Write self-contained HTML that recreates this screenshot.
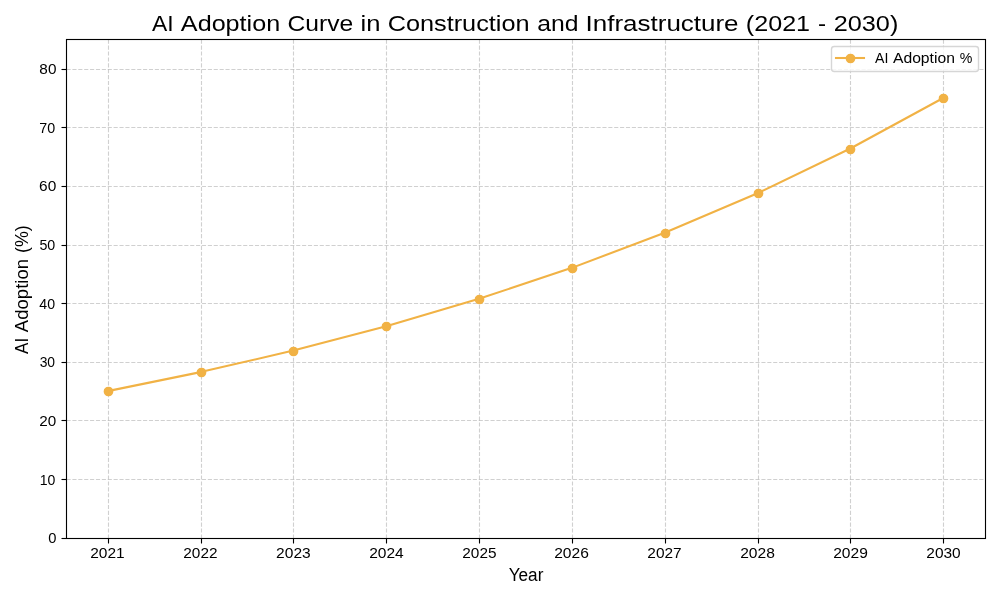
<!DOCTYPE html>
<html lang="en">
<head>
<meta charset="utf-8">
<title>AI Adoption Curve in Construction and Infrastructure (2021 - 2030)</title>
<style>
html,body{margin:0;padding:0;background:#ffffff;}
body{width:1000px;height:600px;overflow:hidden;font-family:"Liberation Sans",sans-serif;}
svg{display:block;will-change:transform;}
text{font-family:"Liberation Sans",sans-serif;fill:#000000;white-space:pre;}
.grid{stroke:#b0b0b0;stroke-opacity:0.6;stroke-width:1.111;stroke-dasharray:4.111 1.778;fill:none;}
.tick{stroke:#000000;stroke-width:1.111;fill:none;}
.spine{stroke:#000000;stroke-width:1.111;fill:none;stroke-linecap:square;}
</style>
</head>
<body>
<svg width="1000" height="600" viewBox="0 0 1000 600">
<rect x="0" y="0" width="1000" height="600" fill="#ffffff"/>
<!-- grid -->
<g class="grid">
<line x1="108.5" y1="538.5" x2="108.5" y2="39.5"/>
<line x1="201.5" y1="538.5" x2="201.5" y2="39.5"/>
<line x1="293.5" y1="538.5" x2="293.5" y2="39.5"/>
<line x1="386.5" y1="538.5" x2="386.5" y2="39.5"/>
<line x1="479.5" y1="538.5" x2="479.5" y2="39.5"/>
<line x1="572.5" y1="538.5" x2="572.5" y2="39.5"/>
<line x1="665.5" y1="538.5" x2="665.5" y2="39.5"/>
<line x1="758.5" y1="538.5" x2="758.5" y2="39.5"/>
<line x1="850.5" y1="538.5" x2="850.5" y2="39.5"/>
<line x1="943.5" y1="538.5" x2="943.5" y2="39.5"/>
<line x1="66.5" y1="479.5" x2="985.5" y2="479.5"/>
<line x1="66.5" y1="420.5" x2="985.5" y2="420.5"/>
<line x1="66.5" y1="362.5" x2="985.5" y2="362.5"/>
<line x1="66.5" y1="303.5" x2="985.5" y2="303.5"/>
<line x1="66.5" y1="245.5" x2="985.5" y2="245.5"/>
<line x1="66.5" y1="186.5" x2="985.5" y2="186.5"/>
<line x1="66.5" y1="127.5" x2="985.5" y2="127.5"/>
<line x1="66.5" y1="69.5" x2="985.5" y2="69.5"/>
</g>
<!-- tick marks -->
<g class="tick">
<line x1="108.5" y1="538.5" x2="108.5" y2="543.5"/>
<line x1="201.5" y1="538.5" x2="201.5" y2="543.5"/>
<line x1="293.5" y1="538.5" x2="293.5" y2="543.5"/>
<line x1="386.5" y1="538.5" x2="386.5" y2="543.5"/>
<line x1="479.5" y1="538.5" x2="479.5" y2="543.5"/>
<line x1="572.5" y1="538.5" x2="572.5" y2="543.5"/>
<line x1="665.5" y1="538.5" x2="665.5" y2="543.5"/>
<line x1="758.5" y1="538.5" x2="758.5" y2="543.5"/>
<line x1="850.5" y1="538.5" x2="850.5" y2="543.5"/>
<line x1="943.5" y1="538.5" x2="943.5" y2="543.5"/>
<line x1="61.5" y1="538.5" x2="66.5" y2="538.5"/>
<line x1="61.5" y1="479.5" x2="66.5" y2="479.5"/>
<line x1="61.5" y1="420.5" x2="66.5" y2="420.5"/>
<line x1="61.5" y1="362.5" x2="66.5" y2="362.5"/>
<line x1="61.5" y1="303.5" x2="66.5" y2="303.5"/>
<line x1="61.5" y1="245.5" x2="66.5" y2="245.5"/>
<line x1="61.5" y1="186.5" x2="66.5" y2="186.5"/>
<line x1="61.5" y1="127.5" x2="66.5" y2="127.5"/>
<line x1="61.5" y1="69.5" x2="66.5" y2="69.5"/>
</g>
<!-- data series -->
<polyline points="107.68,391.14 200.52,372.11 293.36,350.60 386.19,326.31 479.03,298.86 571.87,267.85 664.71,232.81 757.55,193.23 850.38,148.50 943.22,97.97" fill="none" stroke="#f1b245" stroke-width="2.083" stroke-linejoin="round" stroke-linecap="butt"/>
<g fill="#f1b245" stroke="#f1b245" stroke-width="1.389">
<circle cx="108.5" cy="391.5" r="4.167"/>
<circle cx="201.5" cy="372.5" r="4.167"/>
<circle cx="293.5" cy="351.5" r="4.167"/>
<circle cx="386.5" cy="326.5" r="4.167"/>
<circle cx="479.5" cy="299.5" r="4.167"/>
<circle cx="572.5" cy="268.5" r="4.167"/>
<circle cx="665.5" cy="233.5" r="4.167"/>
<circle cx="758.5" cy="193.5" r="4.167"/>
<circle cx="850.5" cy="149.5" r="4.167"/>
<circle cx="943.5" cy="98.5" r="4.167"/>
</g>
<!-- axes frame -->
<rect class="spine" x="66.5" y="39.5" width="919" height="499"/>
<!-- title -->
<text y="31" font-size="22.9"><tspan x="152.12" textLength="21.61" lengthAdjust="spacingAndGlyphs">AI</tspan> <tspan x="180.86" textLength="99.33" lengthAdjust="spacingAndGlyphs">Adoption</tspan> <tspan x="287.46" textLength="65.7" lengthAdjust="spacingAndGlyphs">Curve</tspan> <tspan x="360.63" textLength="19.91" lengthAdjust="spacingAndGlyphs">in</tspan> <tspan x="387.66" textLength="141.94" lengthAdjust="spacingAndGlyphs">Construction</tspan> <tspan x="537.24" textLength="41.26" lengthAdjust="spacingAndGlyphs">and</tspan> <tspan x="585.58" textLength="152.98" lengthAdjust="spacingAndGlyphs">Infrastructure</tspan> <tspan x="745.87" textLength="64.23" lengthAdjust="spacingAndGlyphs">(2021</tspan> <tspan x="818.14" textLength="8.06" lengthAdjust="spacingAndGlyphs">-</tspan> <tspan x="833.74" textLength="64.58" lengthAdjust="spacingAndGlyphs">2030)</tspan></text>
<!-- axis labels -->
<text y="581" font-size="18.8"><tspan x="508.67" textLength="34.74" lengthAdjust="spacingAndGlyphs">Year</tspan></text>
<text y="28" font-size="18.8" transform="rotate(-90)"><tspan x="-353.97" textLength="16.14" lengthAdjust="spacingAndGlyphs">AI</tspan> <tspan x="-332.15" textLength="73.24" lengthAdjust="spacingAndGlyphs">Adoption</tspan> <tspan x="-253.03" textLength="27.82" lengthAdjust="spacingAndGlyphs">(%)</tspan></text>
<!-- x tick labels -->
<text y="558" font-size="14.5"><tspan x="90.23" textLength="34.45" lengthAdjust="spacingAndGlyphs">2021</tspan></text>
<text y="558" font-size="14.5"><tspan x="183.31" textLength="34.23" lengthAdjust="spacingAndGlyphs">2022</tspan></text>
<text y="558" font-size="14.5"><tspan x="276.13" textLength="34.59" lengthAdjust="spacingAndGlyphs">2023</tspan></text>
<text y="558" font-size="14.5"><tspan x="369.15" textLength="34.56" lengthAdjust="spacingAndGlyphs">2024</tspan></text>
<text y="558" font-size="14.5"><tspan x="462.3" textLength="34.19" lengthAdjust="spacingAndGlyphs">2025</tspan></text>
<text y="558" font-size="14.5"><tspan x="554.18" textLength="34.69" lengthAdjust="spacingAndGlyphs">2026</tspan></text>
<text y="558" font-size="14.5"><tspan x="647.31" textLength="34.38" lengthAdjust="spacingAndGlyphs">2027</tspan></text>
<text y="558" font-size="14.5"><tspan x="740.18" textLength="34.67" lengthAdjust="spacingAndGlyphs">2028</tspan></text>
<text y="558" font-size="14.5"><tspan x="833.19" textLength="34.65" lengthAdjust="spacingAndGlyphs">2029</tspan></text>
<text y="558" font-size="14.5"><tspan x="926.31" textLength="34.41" lengthAdjust="spacingAndGlyphs">2030</tspan></text>
<!-- y tick labels -->
<text y="543" font-size="14.5"><tspan x="48.34" textLength="8.2" lengthAdjust="spacingAndGlyphs">0</tspan></text>
<text y="485" font-size="14.5"><tspan x="39.63" textLength="15.64" lengthAdjust="spacingAndGlyphs">10</tspan></text>
<text y="426" font-size="14.5"><tspan x="39.17" textLength="16.96" lengthAdjust="spacingAndGlyphs">20</tspan></text>
<text y="367" font-size="14.5"><tspan x="39.65" textLength="15.44" lengthAdjust="spacingAndGlyphs">30</tspan></text>
<text y="309" font-size="14.5"><tspan x="39.34" textLength="15.75" lengthAdjust="spacingAndGlyphs">40</tspan></text>
<text y="250" font-size="14.5"><tspan x="39.38" textLength="15.86" lengthAdjust="spacingAndGlyphs">50</tspan></text>
<text y="191" font-size="14.5"><tspan x="39.14" textLength="17.19" lengthAdjust="spacingAndGlyphs">60</tspan></text>
<text y="133" font-size="14.5"><tspan x="39.29" textLength="15.9" lengthAdjust="spacingAndGlyphs">70</tspan></text>
<text y="74" font-size="14.5"><tspan x="39.38" textLength="17.04" lengthAdjust="spacingAndGlyphs">80</tspan></text>
<!-- legend -->
<rect x="831.5" y="46.5" width="147" height="25" rx="2.78" ry="2.78" fill="#ffffff" fill-opacity="0.8" stroke="#cccccc" stroke-opacity="0.8" stroke-width="1.389"/>
<line x1="836" y1="58.0" x2="864" y2="58.0" stroke="#f1b245" stroke-width="2.083" stroke-linecap="square"/>
<circle cx="850.5" cy="58.5" r="4.167" fill="#f1b245" stroke="#f1b245" stroke-width="1.389"/>
<text y="63" font-size="14.5"><tspan x="875.03" textLength="13.33" lengthAdjust="spacingAndGlyphs">AI</tspan> <tspan x="892.96" textLength="61.96" lengthAdjust="spacingAndGlyphs">Adoption</tspan> <tspan x="959.71" textLength="12.62" lengthAdjust="spacingAndGlyphs">%</tspan></text>
</svg>
</body>
</html>
